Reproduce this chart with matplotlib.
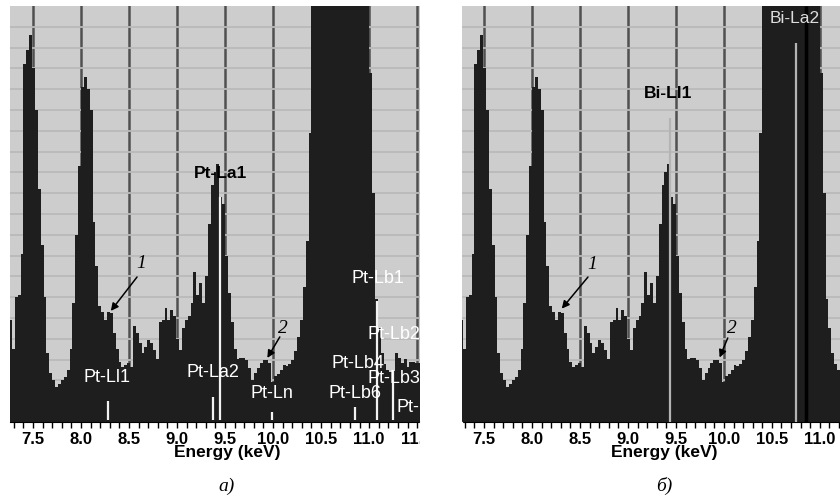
import matplotlib.pyplot as plt
import numpy as np
from matplotlib.patches import Rectangle
from matplotlib.ticker import MultipleLocator, FormatStrFormatter

plt.rcParams["font.family"] = ["Liberation Sans", "DejaVu Sans"]

# EDS spectrum, 0.03 keV channels from 7.25 to 11.54 keV
bin_edges = np.linspace(7.25, 11.54, 144)
counts = [
    4.9, 3.5, 6.0, 6.1, 8.1, 17.2, 17.9, 18.6, 17.0, 15.0,
    11.2, 8.5, 6.0, 3.3, 2.35, 2.0, 1.7, 1.85, 2.0, 2.15,
    2.5, 3.5, 5.7, 9.0, 12.3, 16.1, 16.6, 16.0, 15.0, 9.6,
    7.5, 5.6, 5.3, 4.9, 5.3, 5.25, 4.3, 3.5, 2.9, 2.65,
    2.75, 2.85, 2.65, 4.6, 4.3, 3.8, 3.3, 3.6, 3.95, 3.8,
    3.45, 3.05, 4.8, 4.9, 5.5, 4.9, 5.4, 5.1, 4.0, 3.45,
    4.5, 4.9, 5.1, 5.7, 7.2, 6.1, 6.7, 5.7, 7.0, 9.5,
    11.4, 12.0, 12.4, 10.8, 10.5, 8.0, 6.2, 4.8, 3.5, 3.05,
    3.1, 3.1, 3.0, 2.6, 2.0, 2.35, 2.6, 2.85, 3.0, 3.0,
    2.85, 1.9, 2.2, 2.3, 2.5, 2.75, 2.7, 2.8, 3.0, 3.4,
    4.1, 4.9, 6.5, 8.7, 13.9, 25, 25, 25, 25, 25,
    25, 25, 25, 25, 25, 25, 25, 25, 25, 25,
    25, 25, 25, 25, 25, 16.8, 11.0, 5.9, 4.5, 3.3,
    2.8, 2.5, 2.4, 2.45, 3.3, 3.1, 2.85, 3.05, 2.65, 2.9,
    2.9, 2.85, 2.85,
]

# line markers (energy, height)
pt_line_e = [8.28, 9.375, 9.45, 9.99, 10.85, 11.085, 11.25]
pt_line_h = [1.0, 1.2, 10.8, 0.5, 0.7, 5.8, 2.5]
bi_line_e = [9.44, 10.75]
bi_line_h = [14.6, 18.2]
bi_la1_e = 10.86

BG = "#cdcdcd"
DARK = "#1e1e1e"

fig = plt.figure(figsize=(8.4, 5), dpi=100)
ax_a = fig.add_axes([10 / 840, 78 / 500, 410 / 840, 416 / 500])
ax_b = fig.add_axes([462 / 840, 78 / 500, 378 / 840, 416 / 500])


def draw_panel(ax, xmin, xmax):
    ax.set_facecolor(BG)
    for e in np.arange(7.5, 11.6, 0.5):
        ax.axvline(e, color="#505050", lw=1.8, zorder=1)
    for h in range(1, 20):
        ax.axhline(h, color="#bababa", lw=1.3, zorder=1.5)
    ax.stairs(counts, bin_edges, fill=True, color=DARK, lw=0, zorder=2)
    ax.set_yticks([])
    ticks = [t for t in np.arange(7.5, 11.6, 0.5) if t <= xmax]
    ax.set_xticks(ticks)
    ax.set_xlim(xmin, xmax)
    ax.set_ylim(0, 20)
    ax.xaxis.set_minor_locator(MultipleLocator(0.1))
    ax.xaxis.set_major_formatter(FormatStrFormatter("%.1f"))
    ax.tick_params(which="both", direction="out", length=4, width=1,
                   color="black", pad=3)
    ax.tick_params(labelsize=12)
    for lab in ax.get_xticklabels():
        lab.set_fontweight("bold")
    for s in ["top", "left", "right"]:
        ax.spines[s].set_visible(False)
    ax.spines["bottom"].set_color("black")


def arrow(ax, label, tail, tip, text_xy):
    ax.annotate("", xy=tip, xytext=tail,
                arrowprops=dict(arrowstyle="-|>", color="black", lw=1.1,
                                mutation_scale=11, shrinkA=0, shrinkB=0),
                zorder=5)
    ax.text(*text_xy, label, fontsize=14, style="italic",
            family=["Liberation Serif", "DejaVu Serif"],
            ha="center", va="center", zorder=5)


draw_panel(ax_a, 7.26, 11.53)
draw_panel(ax_b, 7.27, 11.21)

# panel a) Pt lines
ax_a.vlines(pt_line_e, 0.1, pt_line_h, color="#f2f2f2", lw=1.6, zorder=3)
ax_a.text(9.448, 11.95, "Pt-La1", fontsize=12.5, fontweight="bold",
          ha="center", va="center", zorder=4)
white = dict(color="white", fontsize=13, va="center", zorder=4, clip_on=True)
ax_a.text(8.27, 2.16, "Pt-Ll1", ha="center", **white)
ax_a.text(9.375, 2.4, "Pt-La2", ha="center", **white)
ax_a.text(9.99, 1.35, "Pt-Ln", ha="center", **white)
ax_a.text(10.854, 1.39, "Pt-Lb6", ha="center", **white)
ax_a.text(10.885, 2.8, "Pt-Lb4", ha="center", **white)
ax_a.text(11.09, 6.9, "Pt-Lb1", ha="center", **white)
ax_a.text(10.98, 4.23, "Pt-Lb2", ha="left", **white)
ax_a.text(10.98, 2.1, "Pt-Lb3", ha="left", **white)
ax_a.text(11.29, 0.72, "Pt-Lb5", ha="left", **white)
arrow(ax_a, "1", (8.583, 6.97), (8.31, 5.34), (8.625, 7.6))
arrow(ax_a, "2", (10.07, 4.09), (9.94, 3.08), (10.10, 4.5))

# panel b) Bi lines
ax_b.vlines(bi_line_e, 0, bi_line_h, color="#b4b4b4", lw=1.6, zorder=3)
ax_b.vlines(bi_la1_e, 0, 20, color="black", lw=2.5, zorder=3)
ax_b.text(9.417, 15.77, "Bi-Ll1", fontsize=12.5, fontweight="bold",
          ha="center", va="center", zorder=4)
ax_b.text(10.74, 19.4, "Bi-La2", color="#dddddd", fontsize=12.5,
          ha="center", va="center", zorder=4)
arrow(ax_b, "1", (8.583, 6.97), (8.31, 5.45), (8.625, 7.55))
arrow(ax_b, "2", (10.04, 4.04), (9.955, 3.1), (10.08, 4.5))

# hide tick label overflow between the panels
fig.add_artist(Rectangle((420 / 840, 0), 42 / 840, 78 / 500,
                         transform=fig.transFigure, color="white", zorder=10))

for x, lab in [(227, "a)"), (664, "б)")]:
    fig.text(x / 840, 1 - 453 / 500, "Energy (keV)", fontsize=12.5,
             fontweight="bold", ha="center", va="center")
    fig.text(x / 840, 1 - 486 / 500, lab, fontsize=14, style="italic",
             family=["Liberation Serif", "DejaVu Serif"],
             ha="center", va="center")

fig.savefig("out.png", dpi=100)
